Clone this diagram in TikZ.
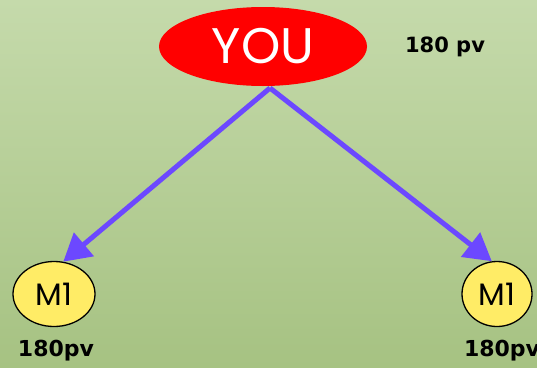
\documentclass[tikz,border=0pt]{standalone}
\usepackage{fontspec}
\setmainfont{Poppins}
\newfontfamily\labelfont{DejaVu Sans}
\usetikzlibrary{shapes.geometric,arrows.meta}
\definecolor{bgtop}{RGB}{197,218,171}
\definecolor{bgbot}{RGB}{166,194,130}
\definecolor{youred}{RGB}{255,0,0}
\definecolor{arrowpurple}{RGB}{108,72,255}
\definecolor{myellow}{RGB}{255,236,102}
\tikzset{
  youbox/.style={ellipse,fill=youred,draw=none,minimum width=208pt,minimum height=79pt,inner sep=0pt,text=white,font=\fontsize{50}{50}\selectfont},
  mbox/.style={ellipse,fill=myellow,draw=black,line width=1.3pt,minimum height=65pt,inner sep=0pt,font=\fontsize{31}{31}\selectfont},
  pvlabel/.style={font=\labelfont\bfseries\fontsize{22}{22}\selectfont,inner sep=0pt},
  conn/.style={draw=arrowpurple,line width=5pt,-{Triangle[length=27pt,width=30pt]}}
}
\begin{document}
\begin{tikzpicture}[x=1pt,y=-1pt]
\shade[top color=bgtop,bottom color=bgbot] (0,0) rectangle (537,367);
\useasboundingbox (0,0) rectangle (537,367);
\node[youbox] (you) at (263,46.5) {YOU};
\node[pvlabel,font=\labelfont\bfseries\fontsize{21}{21}\selectfont] (pvtop) at (445,47) {180 pv};
\node[mbox,minimum width=82pt] (m1l) at (54,294) {M1};
\node[mbox,minimum width=70pt] (m1r) at (497,294) {M1};
\node[pvlabel] (pvl) at (56,351) {180pv};
\node[pvlabel] (pvr) at (502,351) {180pv};
\coordinate (apex) at (270,88);
\draw[conn] (apex) -- (m1l.74);
\draw[conn] (apex) -- (m1r.99);
\end{tikzpicture}
\end{document}
